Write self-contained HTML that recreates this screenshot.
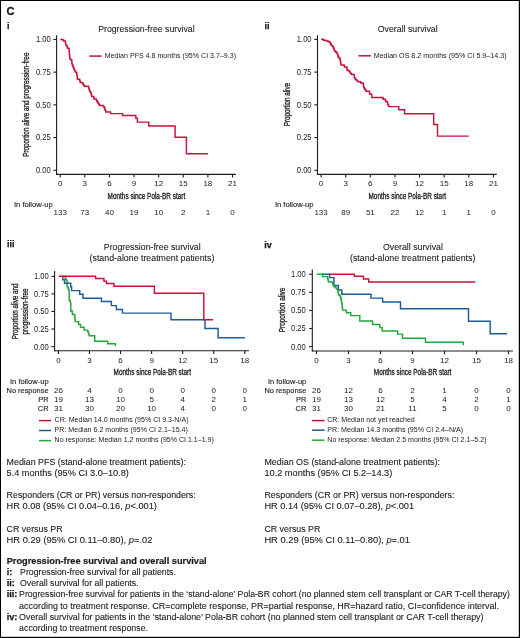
<!DOCTYPE html>
<html><head><meta charset="utf-8"><style>
html,body{margin:0;padding:0;background:#fff;}
body{width:520px;height:638px;overflow:hidden;}
svg{display:block;font-family:"Liberation Sans",sans-serif;}
text{fill:#1a1a1a;stroke:#1a1a1a;stroke-width:0;}
</style></head><body>
<svg width="520" height="638" viewBox="0 0 520 638">
<defs><filter id="bl" x="-5%" y="-5%" width="110%" height="110%" color-interpolation-filters="sRGB"><feGaussianBlur stdDeviation="0.35"/></filter></defs>
<rect x="0" y="0" width="520" height="638" fill="#fff"/>
<g filter="url(#bl)">
<rect x="0" y="0" width="520" height="638" fill="#fff"/>
<text x="6.60" y="14.90" font-size="11.6" font-weight="bold" textLength="8.00" lengthAdjust="spacingAndGlyphs" fill="#000" style="stroke-width:0.3px">C</text>
<text x="6.90" y="28.80" font-size="9" font-weight="bold" fill="#000" style="stroke-width:0.25px">i</text>
<line x1="56.60" y1="35.20" x2="56.60" y2="174.95" stroke="#1c1c1c" stroke-width="1.1"/>
<line x1="56.05" y1="174.40" x2="235.90" y2="174.40" stroke="#1c1c1c" stroke-width="1.1"/>
<line x1="53.40" y1="39.40" x2="56.60" y2="39.40" stroke="#1c1c1c" stroke-width="1.1"/>
<text x="50.70" y="42.30" font-size="8.2" text-anchor="end" textLength="14.80" lengthAdjust="spacingAndGlyphs">1.00</text>
<line x1="53.40" y1="72.12" x2="56.60" y2="72.12" stroke="#1c1c1c" stroke-width="1.1"/>
<text x="50.70" y="75.03" font-size="8.2" text-anchor="end" textLength="14.80" lengthAdjust="spacingAndGlyphs">0.75</text>
<line x1="53.40" y1="104.85" x2="56.60" y2="104.85" stroke="#1c1c1c" stroke-width="1.1"/>
<text x="50.70" y="107.75" font-size="8.2" text-anchor="end" textLength="14.80" lengthAdjust="spacingAndGlyphs">0.50</text>
<line x1="53.40" y1="137.58" x2="56.60" y2="137.58" stroke="#1c1c1c" stroke-width="1.1"/>
<text x="50.70" y="140.48" font-size="8.2" text-anchor="end" textLength="14.80" lengthAdjust="spacingAndGlyphs">0.25</text>
<line x1="53.40" y1="170.30" x2="56.60" y2="170.30" stroke="#1c1c1c" stroke-width="1.1"/>
<text x="50.70" y="173.20" font-size="8.2" text-anchor="end" textLength="14.80" lengthAdjust="spacingAndGlyphs">0.00</text>
<line x1="60.20" y1="174.40" x2="60.20" y2="177.60" stroke="#1c1c1c" stroke-width="1.1"/>
<text x="60.20" y="185.80" font-size="8.0" text-anchor="middle">0</text>
<line x1="84.81" y1="174.40" x2="84.81" y2="177.60" stroke="#1c1c1c" stroke-width="1.1"/>
<text x="84.81" y="185.80" font-size="8.0" text-anchor="middle">3</text>
<line x1="109.43" y1="174.40" x2="109.43" y2="177.60" stroke="#1c1c1c" stroke-width="1.1"/>
<text x="109.43" y="185.80" font-size="8.0" text-anchor="middle">6</text>
<line x1="134.05" y1="174.40" x2="134.05" y2="177.60" stroke="#1c1c1c" stroke-width="1.1"/>
<text x="134.05" y="185.80" font-size="8.0" text-anchor="middle">9</text>
<line x1="158.66" y1="174.40" x2="158.66" y2="177.60" stroke="#1c1c1c" stroke-width="1.1"/>
<text x="158.66" y="185.80" font-size="8.0" text-anchor="middle">12</text>
<line x1="183.27" y1="174.40" x2="183.27" y2="177.60" stroke="#1c1c1c" stroke-width="1.1"/>
<text x="183.27" y="185.80" font-size="8.0" text-anchor="middle">15</text>
<line x1="207.89" y1="174.40" x2="207.89" y2="177.60" stroke="#1c1c1c" stroke-width="1.1"/>
<text x="207.89" y="185.80" font-size="8.0" text-anchor="middle">18</text>
<line x1="232.50" y1="174.40" x2="232.50" y2="177.60" stroke="#1c1c1c" stroke-width="1.1"/>
<text x="232.50" y="185.80" font-size="8.0" text-anchor="middle">21</text>
<text x="98.20" y="31.50" font-size="8.6" textLength="96.40" lengthAdjust="spacingAndGlyphs" style="stroke-width:0.08px">Progression-free survival</text>
<line x1="89.30" y1="56.10" x2="101.60" y2="56.10" stroke="#c8123a" stroke-width="1.5"/>
<text x="104.80" y="57.90" font-size="7.0" textLength="131.20" lengthAdjust="spacingAndGlyphs">Median PFS 4.8 months (95% CI 3.7–9.3)</text>
<text x="107.60" y="198.80" font-size="8.3" textLength="77.60" lengthAdjust="spacingAndGlyphs" style="stroke-width:0.3px">Months since Pola-BR start</text>
<text transform="translate(28.70,156.80) rotate(-90)" x="0" y="0" font-size="8.3" textLength="104.20" lengthAdjust="spacingAndGlyphs" style="stroke-width:0.3px">Proportion alive and progression-free</text>
<text x="14.00" y="206.80" font-size="7.4" textLength="38.60" lengthAdjust="spacingAndGlyphs" style="stroke-width:0.12px">In follow-up</text>
<text x="60.20" y="215.20" font-size="8.0" text-anchor="middle">133</text>
<text x="84.81" y="215.20" font-size="8.0" text-anchor="middle">73</text>
<text x="109.43" y="215.20" font-size="8.0" text-anchor="middle">40</text>
<text x="134.05" y="215.20" font-size="8.0" text-anchor="middle">19</text>
<text x="158.66" y="215.20" font-size="8.0" text-anchor="middle">10</text>
<text x="183.27" y="215.20" font-size="8.0" text-anchor="middle">2</text>
<text x="207.89" y="215.20" font-size="8.0" text-anchor="middle">1</text>
<text x="232.50" y="215.20" font-size="8.0" text-anchor="middle">0</text>
<path d="M60.20,39.40H62.20H63.00V40.20H63.80V41.00H65.40V42.30H65.57V43.20H65.73V44.10H65.90V45.00H66.70V45.60H66.93V46.50H67.17V47.40H67.40V48.30H69.00V48.70H69.08V49.77H69.17V50.83H69.25V51.90H69.33V52.97H69.42V54.03H69.50V55.10H69.60V56.00H69.70V56.90H69.80V57.80H70.10V58.75H70.40V59.70H71.80V61.20H71.80V62.35H71.80V63.50H72.25V64.65H72.70V65.80H73.10V67.00H73.50V68.20H73.95V69.30H74.40V70.40H74.95V71.35H75.50V72.30H76.70V73.50H76.83V74.40H76.97V75.30H77.10V76.20H77.23V77.20H77.37V78.20H77.50V79.20H79.40V79.40H79.70V80.45H80.00V81.50H80.30V82.50H82.30V82.70H82.75V83.65H83.20V84.60H83.80V85.40H84.40V86.20H88.20H88.50V87.15H88.80V88.10H89.00V89.05H89.20V90.00H89.75V91.50H90.38V92.50H91.00V93.50H91.25V94.50H91.50V95.50H91.75V96.50H93.50V97.00H93.75V98.00H94.00V99.00H96.00V99.50H96.62V100.75H97.25V102.00H98.00V103.25H98.75V104.50H99.50V105.50H102.00H103.50V106.60H104.10V107.40H104.70V108.20H104.90V109.35H105.10V110.50H105.80V112.00H110.60V113.60H122.60H122.60V114.55H122.60V115.50H135.80H135.80V116.40H135.80V117.30H135.80V118.20H137.40V118.90H137.40V119.97H137.40V121.03H137.40V122.10H148.80H148.80V123.05H148.80V124.00H148.80V124.95H148.80V125.90H175.10H175.10V126.93H175.10V127.95H175.10V128.98H175.10V130.01H175.10V131.04H175.10V132.06H175.10V133.09H175.10V134.12H175.10V135.15H175.10V136.17H175.10V137.20H186.40H186.40V138.18H186.40V139.15H186.40V140.13H186.40V141.11H186.40V142.08H186.40V143.06H186.40V144.04H186.40V145.01H186.40V145.99H186.40V146.96H186.40V147.94H186.40V148.92H186.40V149.89H186.40V150.87H186.40V151.85H186.40V152.82H186.40V153.80H207.90" fill="none" stroke="#c8123a" stroke-width="1.45" stroke-linejoin="miter" stroke-linecap="butt"/>
<text x="264.40" y="29.10" font-size="9" font-weight="bold" fill="#000" style="stroke-width:0.25px">ii</text>
<line x1="317.50" y1="35.20" x2="317.50" y2="174.95" stroke="#1c1c1c" stroke-width="1.1"/>
<line x1="316.95" y1="174.40" x2="496.80" y2="174.40" stroke="#1c1c1c" stroke-width="1.1"/>
<line x1="314.30" y1="39.40" x2="317.50" y2="39.40" stroke="#1c1c1c" stroke-width="1.1"/>
<text x="311.60" y="42.30" font-size="8.2" text-anchor="end" textLength="14.80" lengthAdjust="spacingAndGlyphs">1.00</text>
<line x1="314.30" y1="72.12" x2="317.50" y2="72.12" stroke="#1c1c1c" stroke-width="1.1"/>
<text x="311.60" y="75.03" font-size="8.2" text-anchor="end" textLength="14.80" lengthAdjust="spacingAndGlyphs">0.75</text>
<line x1="314.30" y1="104.85" x2="317.50" y2="104.85" stroke="#1c1c1c" stroke-width="1.1"/>
<text x="311.60" y="107.75" font-size="8.2" text-anchor="end" textLength="14.80" lengthAdjust="spacingAndGlyphs">0.50</text>
<line x1="314.30" y1="137.58" x2="317.50" y2="137.58" stroke="#1c1c1c" stroke-width="1.1"/>
<text x="311.60" y="140.48" font-size="8.2" text-anchor="end" textLength="14.80" lengthAdjust="spacingAndGlyphs">0.25</text>
<line x1="314.30" y1="170.30" x2="317.50" y2="170.30" stroke="#1c1c1c" stroke-width="1.1"/>
<text x="311.60" y="173.20" font-size="8.2" text-anchor="end" textLength="14.80" lengthAdjust="spacingAndGlyphs">0.00</text>
<line x1="321.10" y1="174.40" x2="321.10" y2="177.60" stroke="#1c1c1c" stroke-width="1.1"/>
<text x="321.10" y="185.80" font-size="8.0" text-anchor="middle">0</text>
<line x1="345.71" y1="174.40" x2="345.71" y2="177.60" stroke="#1c1c1c" stroke-width="1.1"/>
<text x="345.71" y="185.80" font-size="8.0" text-anchor="middle">3</text>
<line x1="370.33" y1="174.40" x2="370.33" y2="177.60" stroke="#1c1c1c" stroke-width="1.1"/>
<text x="370.33" y="185.80" font-size="8.0" text-anchor="middle">6</text>
<line x1="394.94" y1="174.40" x2="394.94" y2="177.60" stroke="#1c1c1c" stroke-width="1.1"/>
<text x="394.94" y="185.80" font-size="8.0" text-anchor="middle">9</text>
<line x1="419.56" y1="174.40" x2="419.56" y2="177.60" stroke="#1c1c1c" stroke-width="1.1"/>
<text x="419.56" y="185.80" font-size="8.0" text-anchor="middle">12</text>
<line x1="444.17" y1="174.40" x2="444.17" y2="177.60" stroke="#1c1c1c" stroke-width="1.1"/>
<text x="444.17" y="185.80" font-size="8.0" text-anchor="middle">15</text>
<line x1="468.79" y1="174.40" x2="468.79" y2="177.60" stroke="#1c1c1c" stroke-width="1.1"/>
<text x="468.79" y="185.80" font-size="8.0" text-anchor="middle">18</text>
<line x1="493.40" y1="174.40" x2="493.40" y2="177.60" stroke="#1c1c1c" stroke-width="1.1"/>
<text x="493.40" y="185.80" font-size="8.0" text-anchor="middle">21</text>
<text x="377.80" y="31.50" font-size="8.6" textLength="59.90" lengthAdjust="spacingAndGlyphs" style="stroke-width:0.08px">Overall survival</text>
<line x1="358.40" y1="55.80" x2="370.80" y2="55.80" stroke="#c8123a" stroke-width="1.5"/>
<text x="373.70" y="57.90" font-size="7.0" textLength="132.90" lengthAdjust="spacingAndGlyphs">Median OS 8.2 months (95% CI 5.9–14.3)</text>
<text x="368.50" y="198.80" font-size="8.3" textLength="77.60" lengthAdjust="spacingAndGlyphs" style="stroke-width:0.3px">Months since Pola-BR start</text>
<text transform="translate(289.60,126.20) rotate(-90)" x="0" y="0" font-size="8.3" textLength="43.20" lengthAdjust="spacingAndGlyphs" style="stroke-width:0.3px">Proportion alive</text>
<text x="274.90" y="206.80" font-size="7.4" textLength="38.60" lengthAdjust="spacingAndGlyphs" style="stroke-width:0.12px">In follow-up</text>
<text x="321.10" y="215.20" font-size="8.0" text-anchor="middle">133</text>
<text x="345.71" y="215.20" font-size="8.0" text-anchor="middle">89</text>
<text x="370.33" y="215.20" font-size="8.0" text-anchor="middle">51</text>
<text x="394.94" y="215.20" font-size="8.0" text-anchor="middle">22</text>
<text x="419.56" y="215.20" font-size="8.0" text-anchor="middle">12</text>
<text x="444.17" y="215.20" font-size="8.0" text-anchor="middle">1</text>
<text x="468.79" y="215.20" font-size="8.0" text-anchor="middle">1</text>
<text x="493.40" y="215.20" font-size="8.0" text-anchor="middle">0</text>
<path d="M321.20,39.20H323.00H323.50V40.25H325.50V40.50H326.50V41.00H328.00V41.50H329.50V42.50H330.50V43.50H330.88V44.50H331.25V45.50H332.50V46.50H333.25V48.00H334.00V49.25H334.25V50.12H334.50V51.00H335.75V52.25H337.00V53.25H337.38V54.12H337.75V55.00H338.00V56.25H338.25V57.50H339.50V58.50H339.88V59.50H340.25V60.50H340.44V61.62H340.62V62.75H340.81V63.88H341.00V65.00H344.00V65.25H344.25V66.12H344.50V67.00H346.75V67.50H346.92V68.50H347.08V69.50H347.25V70.50H349.25V71.25H349.88V72.38H350.50V73.50H351.50V74.50H354.00H354.12V75.38H354.25V76.25H354.38V77.12H354.50V78.00H355.25V79.00H356.00V80.00H357.00V80.88H358.00V81.75H360.80V82.90H363.20V84.20H363.35V85.10H363.50V86.00H363.65V86.90H363.80V87.80H364.53V88.93H365.27V90.07H366.00V91.20H369.40H369.50V92.23H369.60V93.27H369.70V94.30H371.80V94.60H371.80V95.53H371.80V96.47H371.80V97.40H382.60H382.90V98.30H383.20V99.20H385.10V99.50H385.40V100.45H385.70V101.40H387.20V101.70H387.40V102.63H387.60V103.57H387.80V104.50H388.30V105.55H388.80V106.60H398.80H398.80V107.63H398.80V108.67H398.80V109.70H404.60H404.60V110.70H404.60V111.70H404.60V112.70H404.60V113.70H433.70H433.70V114.68H433.70V115.66H433.70V116.65H433.70V117.63H433.70V118.61H433.70V119.59H433.70V120.57H433.70V121.55H433.70V122.54H433.70V123.52H433.70V124.50H437.50H437.50V125.47H437.50V126.43H437.50V127.40H437.50V128.37H437.50V129.33H437.50V130.30H437.50V131.27H437.50V132.23H437.50V133.20H437.50V134.17H437.50V135.13H437.50V136.10H468.80" fill="none" stroke="#c8123a" stroke-width="1.45" stroke-linejoin="miter" stroke-linecap="butt"/>
<text x="6.90" y="247.40" font-size="9" font-weight="bold" fill="#000" style="stroke-width:0.25px">iii</text>
<line x1="54.60" y1="271.00" x2="54.60" y2="351.35" stroke="#1c1c1c" stroke-width="1.1"/>
<line x1="54.05" y1="350.80" x2="249.00" y2="350.80" stroke="#1c1c1c" stroke-width="1.1"/>
<line x1="51.40" y1="276.30" x2="54.60" y2="276.30" stroke="#1c1c1c" stroke-width="1.1"/>
<text x="48.80" y="279.20" font-size="8.2" text-anchor="end" textLength="14.80" lengthAdjust="spacingAndGlyphs">1.00</text>
<line x1="51.40" y1="293.88" x2="54.60" y2="293.88" stroke="#1c1c1c" stroke-width="1.1"/>
<text x="48.80" y="296.77" font-size="8.2" text-anchor="end" textLength="14.80" lengthAdjust="spacingAndGlyphs">0.75</text>
<line x1="51.40" y1="311.45" x2="54.60" y2="311.45" stroke="#1c1c1c" stroke-width="1.1"/>
<text x="48.80" y="314.35" font-size="8.2" text-anchor="end" textLength="14.80" lengthAdjust="spacingAndGlyphs">0.50</text>
<line x1="51.40" y1="329.02" x2="54.60" y2="329.02" stroke="#1c1c1c" stroke-width="1.1"/>
<text x="48.80" y="331.92" font-size="8.2" text-anchor="end" textLength="14.80" lengthAdjust="spacingAndGlyphs">0.25</text>
<line x1="51.40" y1="346.60" x2="54.60" y2="346.60" stroke="#1c1c1c" stroke-width="1.1"/>
<text x="48.80" y="349.50" font-size="8.2" text-anchor="end" textLength="14.80" lengthAdjust="spacingAndGlyphs">0.00</text>
<line x1="58.40" y1="350.80" x2="58.40" y2="354.00" stroke="#1c1c1c" stroke-width="1.1"/>
<text x="58.40" y="362.80" font-size="8.0" text-anchor="middle">0</text>
<line x1="89.47" y1="350.80" x2="89.47" y2="354.00" stroke="#1c1c1c" stroke-width="1.1"/>
<text x="89.47" y="362.80" font-size="8.0" text-anchor="middle">3</text>
<line x1="120.54" y1="350.80" x2="120.54" y2="354.00" stroke="#1c1c1c" stroke-width="1.1"/>
<text x="120.54" y="362.80" font-size="8.0" text-anchor="middle">6</text>
<line x1="151.61" y1="350.80" x2="151.61" y2="354.00" stroke="#1c1c1c" stroke-width="1.1"/>
<text x="151.61" y="362.80" font-size="8.0" text-anchor="middle">9</text>
<line x1="182.68" y1="350.80" x2="182.68" y2="354.00" stroke="#1c1c1c" stroke-width="1.1"/>
<text x="182.68" y="362.80" font-size="8.0" text-anchor="middle">12</text>
<line x1="213.75" y1="350.80" x2="213.75" y2="354.00" stroke="#1c1c1c" stroke-width="1.1"/>
<text x="213.75" y="362.80" font-size="8.0" text-anchor="middle">15</text>
<line x1="244.82" y1="350.80" x2="244.82" y2="354.00" stroke="#1c1c1c" stroke-width="1.1"/>
<text x="244.82" y="362.80" font-size="8.0" text-anchor="middle">18</text>
<text x="103.80" y="249.70" font-size="8.6" textLength="96.80" lengthAdjust="spacingAndGlyphs" style="stroke-width:0.08px">Progression-free survival</text>
<text x="89.60" y="261.00" font-size="8.6" textLength="124.80" lengthAdjust="spacingAndGlyphs" style="stroke-width:0.08px">(stand-alone treatment patients)</text>
<text x="113.60" y="374.70" font-size="8.3" textLength="77.40" lengthAdjust="spacingAndGlyphs" style="stroke-width:0.3px">Months since Pola-BR start</text>
<text transform="translate(18.30,339.30) rotate(-90)" x="0" y="0" font-size="8.3" textLength="55.90" lengthAdjust="spacingAndGlyphs" style="stroke-width:0.3px">Proportion alive and</text>
<text transform="translate(28.40,334.40) rotate(-90)" x="0" y="0" font-size="8.3" textLength="46.00" lengthAdjust="spacingAndGlyphs" style="stroke-width:0.3px">progression-free</text>
<text x="48.60" y="383.80" font-size="7.4" text-anchor="end" textLength="38.60" lengthAdjust="spacingAndGlyphs" style="stroke-width:0.12px">In follow-up</text>
<text x="48.50" y="392.80" font-size="7.4" text-anchor="end" style="stroke-width:0.12px">No response</text>
<text x="48.50" y="402.00" font-size="7.4" text-anchor="end" style="stroke-width:0.12px">PR</text>
<text x="48.50" y="411.20" font-size="7.4" text-anchor="end" style="stroke-width:0.12px">CR</text>
<text x="58.40" y="392.80" font-size="8.0" text-anchor="middle">26</text>
<text x="89.47" y="392.80" font-size="8.0" text-anchor="middle">4</text>
<text x="120.54" y="392.80" font-size="8.0" text-anchor="middle">0</text>
<text x="151.61" y="392.80" font-size="8.0" text-anchor="middle">0</text>
<text x="182.68" y="392.80" font-size="8.0" text-anchor="middle">0</text>
<text x="213.75" y="392.80" font-size="8.0" text-anchor="middle">0</text>
<text x="244.82" y="392.80" font-size="8.0" text-anchor="middle">0</text>
<text x="58.40" y="402.00" font-size="8.0" text-anchor="middle">19</text>
<text x="89.47" y="402.00" font-size="8.0" text-anchor="middle">13</text>
<text x="120.54" y="402.00" font-size="8.0" text-anchor="middle">10</text>
<text x="151.61" y="402.00" font-size="8.0" text-anchor="middle">5</text>
<text x="182.68" y="402.00" font-size="8.0" text-anchor="middle">4</text>
<text x="213.75" y="402.00" font-size="8.0" text-anchor="middle">2</text>
<text x="244.82" y="402.00" font-size="8.0" text-anchor="middle">1</text>
<text x="58.40" y="411.20" font-size="8.0" text-anchor="middle">31</text>
<text x="89.47" y="411.20" font-size="8.0" text-anchor="middle">30</text>
<text x="120.54" y="411.20" font-size="8.0" text-anchor="middle">20</text>
<text x="151.61" y="411.20" font-size="8.0" text-anchor="middle">10</text>
<text x="182.68" y="411.20" font-size="8.0" text-anchor="middle">4</text>
<text x="213.75" y="411.20" font-size="8.0" text-anchor="middle">0</text>
<text x="244.82" y="411.20" font-size="8.0" text-anchor="middle">0</text>
<line x1="39.00" y1="420.60" x2="51.10" y2="420.60" stroke="#c8123a" stroke-width="1.5"/>
<line x1="39.00" y1="430.50" x2="51.10" y2="430.50" stroke="#1e5c96" stroke-width="1.5"/>
<line x1="39.00" y1="440.60" x2="51.10" y2="440.60" stroke="#22a838" stroke-width="1.5"/>
<text x="54.60" y="422.40" font-size="7.0" textLength="133.90" lengthAdjust="spacingAndGlyphs">CR: Median 14.0 months (95% CI 9.3-N/A)</text>
<text x="54.60" y="432.20" font-size="7.0" textLength="133.30" lengthAdjust="spacingAndGlyphs">PR: Median 6.2 months (95% CI 2.1–15.4)</text>
<text x="54.60" y="442.20" font-size="7.0" textLength="159.30" lengthAdjust="spacingAndGlyphs">No response: Median 1.2 months (95% CI 1.1–1.9)</text>
<path d="M64.30,276.30H64.80H65.10V277.25H65.40V278.20H65.83V279.10H66.25V280.00H66.67V280.85H67.10V281.70H67.10V282.66H67.10V283.62H67.10V284.58H67.10V285.54H67.10V286.50H67.70V287.70H68.30V288.90H68.60V289.90H68.90V290.90H69.20V291.90H69.20V292.94H69.20V293.97H69.20V295.01H69.20V296.05H69.20V297.09H69.20V298.12H69.20V299.16H69.20V300.20H69.80V301.10H70.40V302.00H70.53V303.00H70.67V304.00H70.80V305.00H70.80V306.00H70.80V307.00H70.80V308.00H70.80V309.00H70.80V310.00H70.80V311.00H72.10V311.30H72.20V312.33H72.30V313.37H72.40V314.40H74.60H74.69V315.43H74.77V316.46H74.86V317.49H74.94V318.51H75.03V319.54H75.11V320.57H75.20V321.60H78.40V321.90H78.55V323.15H78.70V324.40H80.50V325.70H80.50V326.50H80.50V327.30H84.00V327.60H84.00V328.85H84.00V330.10H87.40V330.40H87.78V331.46H88.16V332.52H88.54V333.58H88.92V334.64H89.30V335.70H94.70H94.70V336.62H94.70V337.53H94.70V338.45H94.70V339.37H94.70V340.28H94.70V341.20H107.70H107.70V342.07H107.70V342.93H107.70V343.80H115.40H115.40V345.05H115.40V346.30" fill="none" stroke="#22a838" stroke-width="1.45" stroke-linejoin="miter" stroke-linecap="butt"/>
<path d="M62.30,276.30H62.80H62.80V277.43H62.80V278.57H62.80V279.70H64.50V280.00H64.50V281.07H64.50V282.13H64.50V283.20H70.70H70.70V284.10H70.70V285.00H70.70V285.90H70.70V286.80H71.60H71.60V287.75H71.60V288.70H71.60V289.65H71.60V290.60H79.70H79.70V291.53H79.70V292.45H79.70V293.38H79.70V294.30H83.00H83.00V295.27H83.00V296.25H83.00V297.23H83.00V298.20H101.40H101.40V299.30H101.40V300.40H101.40V301.50H111.40H111.40V302.52H111.40V303.55H111.40V304.58H111.40V305.60H116.40H116.40V306.55H116.40V307.50H116.40V308.45H116.40V309.40H122.50H122.50V310.32H122.50V311.25H122.50V312.18H122.50V313.10H171.00H171.00V314.06H171.00V315.01H171.00V315.97H171.00V316.93H171.00V317.89H171.00V318.84H171.00V319.80H205.00H205.00V320.77H205.00V321.73H205.00V322.70H205.00V323.67H205.00V324.63H205.00V325.60H205.00V326.57H205.00V327.53H205.00V328.50H218.10H218.10V329.52H218.10V330.54H218.10V331.57H218.10V332.59H218.10V333.61H218.10V334.63H218.10V335.66H218.10V336.68H218.10V337.70H244.80" fill="none" stroke="#1e5c96" stroke-width="1.45" stroke-linejoin="miter" stroke-linecap="butt"/>
<path d="M58.60,276.30H95.60H95.60V277.35H95.60V278.40H103.90H103.90V279.33H103.90V280.27H103.90V281.20H106.50H106.50V282.30H106.50V283.40H114.00H114.00V284.37H114.00V285.33H114.00V286.30H154.40H154.40V287.30H154.40V288.30H154.40V289.30H154.40V290.30H154.40V291.30H154.40V292.30H154.40V293.30H203.80H203.80V294.32H203.80V295.34H203.80V296.36H203.80V297.38H203.80V298.40H203.80V299.42H203.80V300.43H203.80V301.45H203.80V302.47H203.80V303.49H203.80V304.51H203.80V305.53H203.80V306.55H203.80V307.57H203.80V308.59H203.80V309.61H203.80V310.63H203.80V311.65H203.80V312.67H203.80V313.68H203.80V314.70H203.80V315.72H203.80V316.74H203.80V317.76H203.80V318.78H203.80V319.80H213.10" fill="none" stroke="#c8123a" stroke-width="1.45" stroke-linejoin="miter" stroke-linecap="butt"/>
<text x="264.30" y="247.70" font-size="9" font-weight="bold" fill="#000" style="stroke-width:0.25px">iv</text>
<line x1="312.30" y1="269.40" x2="312.30" y2="351.55" stroke="#1c1c1c" stroke-width="1.1"/>
<line x1="311.75" y1="351.00" x2="512.90" y2="351.00" stroke="#1c1c1c" stroke-width="1.1"/>
<line x1="309.10" y1="274.20" x2="312.30" y2="274.20" stroke="#1c1c1c" stroke-width="1.1"/>
<text x="305.80" y="277.10" font-size="8.2" text-anchor="end" textLength="14.80" lengthAdjust="spacingAndGlyphs">1.00</text>
<line x1="309.10" y1="292.30" x2="312.30" y2="292.30" stroke="#1c1c1c" stroke-width="1.1"/>
<text x="305.80" y="295.20" font-size="8.2" text-anchor="end" textLength="14.80" lengthAdjust="spacingAndGlyphs">0.75</text>
<line x1="309.10" y1="310.40" x2="312.30" y2="310.40" stroke="#1c1c1c" stroke-width="1.1"/>
<text x="305.80" y="313.30" font-size="8.2" text-anchor="end" textLength="14.80" lengthAdjust="spacingAndGlyphs">0.50</text>
<line x1="309.10" y1="328.50" x2="312.30" y2="328.50" stroke="#1c1c1c" stroke-width="1.1"/>
<text x="305.80" y="331.40" font-size="8.2" text-anchor="end" textLength="14.80" lengthAdjust="spacingAndGlyphs">0.25</text>
<line x1="309.10" y1="346.60" x2="312.30" y2="346.60" stroke="#1c1c1c" stroke-width="1.1"/>
<text x="305.80" y="349.50" font-size="8.2" text-anchor="end" textLength="14.80" lengthAdjust="spacingAndGlyphs">0.00</text>
<line x1="316.50" y1="351.00" x2="316.50" y2="354.20" stroke="#1c1c1c" stroke-width="1.1"/>
<text x="316.50" y="362.80" font-size="8.0" text-anchor="middle">0</text>
<line x1="348.50" y1="351.00" x2="348.50" y2="354.20" stroke="#1c1c1c" stroke-width="1.1"/>
<text x="348.50" y="362.80" font-size="8.0" text-anchor="middle">3</text>
<line x1="380.50" y1="351.00" x2="380.50" y2="354.20" stroke="#1c1c1c" stroke-width="1.1"/>
<text x="380.50" y="362.80" font-size="8.0" text-anchor="middle">6</text>
<line x1="412.50" y1="351.00" x2="412.50" y2="354.20" stroke="#1c1c1c" stroke-width="1.1"/>
<text x="412.50" y="362.80" font-size="8.0" text-anchor="middle">9</text>
<line x1="444.50" y1="351.00" x2="444.50" y2="354.20" stroke="#1c1c1c" stroke-width="1.1"/>
<text x="444.50" y="362.80" font-size="8.0" text-anchor="middle">12</text>
<line x1="476.50" y1="351.00" x2="476.50" y2="354.20" stroke="#1c1c1c" stroke-width="1.1"/>
<text x="476.50" y="362.80" font-size="8.0" text-anchor="middle">15</text>
<line x1="508.50" y1="351.00" x2="508.50" y2="354.20" stroke="#1c1c1c" stroke-width="1.1"/>
<text x="508.50" y="362.80" font-size="8.0" text-anchor="middle">18</text>
<text x="383.00" y="249.70" font-size="8.6" textLength="59.90" lengthAdjust="spacingAndGlyphs" style="stroke-width:0.08px">Overall survival</text>
<text x="350.00" y="261.00" font-size="8.6" textLength="125.40" lengthAdjust="spacingAndGlyphs" style="stroke-width:0.08px">(stand-alone treatment patients)</text>
<text x="373.80" y="374.70" font-size="8.3" textLength="77.60" lengthAdjust="spacingAndGlyphs" style="stroke-width:0.3px">Months since Pola-BR start</text>
<text transform="translate(284.90,332.20) rotate(-90)" x="0" y="0" font-size="8.3" textLength="44.60" lengthAdjust="spacingAndGlyphs" style="stroke-width:0.3px">Proportion alive</text>
<text x="306.30" y="383.80" font-size="7.4" text-anchor="end" textLength="38.40" lengthAdjust="spacingAndGlyphs" style="stroke-width:0.12px">In follow-up</text>
<text x="306.30" y="393.00" font-size="7.4" text-anchor="end" style="stroke-width:0.12px">No response</text>
<text x="306.30" y="401.90" font-size="7.4" text-anchor="end" style="stroke-width:0.12px">PR</text>
<text x="306.30" y="411.10" font-size="7.4" text-anchor="end" style="stroke-width:0.12px">CR</text>
<text x="316.50" y="393.00" font-size="8.0" text-anchor="middle">26</text>
<text x="348.50" y="393.00" font-size="8.0" text-anchor="middle">12</text>
<text x="380.50" y="393.00" font-size="8.0" text-anchor="middle">6</text>
<text x="412.50" y="393.00" font-size="8.0" text-anchor="middle">2</text>
<text x="444.50" y="393.00" font-size="8.0" text-anchor="middle">1</text>
<text x="476.50" y="393.00" font-size="8.0" text-anchor="middle">0</text>
<text x="508.50" y="393.00" font-size="8.0" text-anchor="middle">0</text>
<text x="316.50" y="401.90" font-size="8.0" text-anchor="middle">19</text>
<text x="348.50" y="401.90" font-size="8.0" text-anchor="middle">13</text>
<text x="380.50" y="401.90" font-size="8.0" text-anchor="middle">12</text>
<text x="412.50" y="401.90" font-size="8.0" text-anchor="middle">5</text>
<text x="444.50" y="401.90" font-size="8.0" text-anchor="middle">4</text>
<text x="476.50" y="401.90" font-size="8.0" text-anchor="middle">2</text>
<text x="508.50" y="401.90" font-size="8.0" text-anchor="middle">1</text>
<text x="316.50" y="411.10" font-size="8.0" text-anchor="middle">31</text>
<text x="348.50" y="411.10" font-size="8.0" text-anchor="middle">30</text>
<text x="380.50" y="411.10" font-size="8.0" text-anchor="middle">21</text>
<text x="412.50" y="411.10" font-size="8.0" text-anchor="middle">11</text>
<text x="444.50" y="411.10" font-size="8.0" text-anchor="middle">5</text>
<text x="476.50" y="411.10" font-size="8.0" text-anchor="middle">0</text>
<text x="508.50" y="411.10" font-size="8.0" text-anchor="middle">0</text>
<line x1="312.10" y1="420.60" x2="324.60" y2="420.60" stroke="#c8123a" stroke-width="1.5"/>
<line x1="312.10" y1="430.20" x2="324.60" y2="430.20" stroke="#1e5c96" stroke-width="1.5"/>
<line x1="312.10" y1="440.20" x2="324.60" y2="440.20" stroke="#22a838" stroke-width="1.5"/>
<text x="327.30" y="422.30" font-size="7.0" textLength="87.40" lengthAdjust="spacingAndGlyphs">CR: Median not yet reached</text>
<text x="327.30" y="432.00" font-size="7.0" textLength="135.90" lengthAdjust="spacingAndGlyphs">PR: Median 14.3 months (95% CI 2.4–N/A)</text>
<text x="327.30" y="442.00" font-size="7.0" textLength="159.20" lengthAdjust="spacingAndGlyphs">No response: Median 2.5 months (95% CI 2.1–5.2)</text>
<path d="M329.10,274.20H354.30H354.30V275.25H354.30V276.30H363.40H363.40V277.20H363.40V278.10H363.40V279.00H368.70H368.70V279.97H368.70V280.93H368.70V281.90H475.40" fill="none" stroke="#c8123a" stroke-width="1.45" stroke-linejoin="miter" stroke-linecap="butt"/>
<path d="M322.00,274.20H329.60H329.60V275.33H329.60V276.47H329.60V277.60H333.90H333.90V278.59H333.90V279.58H333.90V280.56H333.90V281.55H333.90V282.54H333.90V283.52H333.90V284.51H333.90V285.50H338.50V285.70H338.50V286.75H338.50V287.80H338.50V288.85H338.50V289.90H341.70V290.10H341.75V291.12H341.80V292.15H341.85V293.18H341.90V294.20H371.00H371.00V295.18H371.00V296.15H371.00V297.12H371.00V298.10H382.60H382.60V299.05H382.60V300.00H382.60V300.95H382.60V301.90H400.50H400.50V302.87H400.50V303.84H400.50V304.81H400.50V305.79H400.50V306.76H400.50V307.73H400.50V308.70H468.50H468.50V309.74H468.50V310.78H468.50V311.82H468.50V312.87H468.50V313.91H468.50V314.95H468.50V315.99H468.50V317.03H468.50V318.07H468.50V319.12H468.50V320.16H468.50V321.20H490.20H490.20V322.24H490.20V323.28H490.20V324.32H490.20V325.37H490.20V326.41H490.20V327.45H490.20V328.49H490.20V329.53H490.20V330.57H490.20V331.62H490.20V332.66H490.20V333.70H506.90" fill="none" stroke="#1e5c96" stroke-width="1.45" stroke-linejoin="miter" stroke-linecap="butt"/>
<path d="M316.80,274.20H322.50H322.50V275.40H322.50V276.60H326.90H327.50V278.00H327.75V279.00H328.00V280.00H328.25V281.00H328.50V282.00H332.30V282.30H332.60V283.33H332.90V284.37H333.20V285.40H333.85V286.20H334.50V287.00H336.00V288.20H336.95V289.45H337.90V290.70H338.05V291.73H338.20V292.75H338.35V293.77H338.50V294.80H339.45V295.75H340.40V296.70H340.65V297.80H340.90V298.90H341.15V300.00H341.40V301.10H341.55V302.03H341.70V302.95H341.85V303.88H342.00V304.80H342.12V305.86H342.24V306.92H342.36V307.98H342.48V309.04H342.60V310.10H346.00H346.13V310.97H346.27V311.83H346.40V312.70H350.70H350.70V313.67H350.70V314.63H350.70V315.60H359.80H359.80V316.68H359.80V317.76H359.80V318.84H359.80V319.92H359.80V321.00H372.50H372.50V322.13H372.50V323.27H372.50V324.40H379.80H379.80V325.47H379.80V326.53H379.80V327.60H382.20V327.90H382.20V328.90H382.20V329.90H382.20V330.90H397.50H397.50V331.97H397.50V333.03H397.50V334.10H402.50H402.50V335.15H402.50V336.20H402.50V337.25H402.50V338.30H425.50H425.50V339.30H425.50V340.30H425.50V341.30H425.50V342.30H463.30H463.30V343.27H463.30V344.23H463.30V345.20" fill="none" stroke="#22a838" stroke-width="1.45" stroke-linejoin="miter" stroke-linecap="butt"/>
<text x="6.60" y="464.80" font-size="9.3" textLength="179.30" lengthAdjust="spacingAndGlyphs" style="stroke-width:0.1px">Median PFS (stand-alone treatment patients):</text>
<text x="6.60" y="475.70" font-size="9.3" textLength="122.20" lengthAdjust="spacingAndGlyphs" style="stroke-width:0.1px">5.4 months (95% CI 3.0–10.8)</text>
<text x="6.60" y="498.00" font-size="9.3" textLength="189.10" lengthAdjust="spacingAndGlyphs" style="stroke-width:0.1px">Responders (CR or PR) versus non-responders:</text>
<text x="6.60" y="509.00" font-size="9.3" textLength="150.30" lengthAdjust="spacingAndGlyphs" style="stroke-width:0.1px">HR 0.08 (95% CI 0.04–0.16, <tspan font-style="italic">p</tspan>&lt;.001)</text>
<text x="6.60" y="531.80" font-size="9.3" textLength="56.00" lengthAdjust="spacingAndGlyphs" style="stroke-width:0.1px">CR versus PR</text>
<text x="6.60" y="542.80" font-size="9.3" textLength="145.80" lengthAdjust="spacingAndGlyphs" style="stroke-width:0.1px">HR 0.29 (95% CI 0.11–0.80), <tspan font-style="italic">p</tspan>=.02</text>
<text x="264.40" y="464.80" font-size="9.3" textLength="175.60" lengthAdjust="spacingAndGlyphs" style="stroke-width:0.1px">Median OS (stand-alone treatment patients):</text>
<text x="264.40" y="475.70" font-size="9.3" textLength="127.90" lengthAdjust="spacingAndGlyphs" style="stroke-width:0.1px">10.2 months (95% CI 5.2–14.3)</text>
<text x="264.40" y="498.00" font-size="9.3" textLength="190.10" lengthAdjust="spacingAndGlyphs" style="stroke-width:0.1px">Responders (CR or PR) versus non-responders:</text>
<text x="264.40" y="509.00" font-size="9.3" textLength="149.70" lengthAdjust="spacingAndGlyphs" style="stroke-width:0.1px">HR 0.14 (95% CI 0.07–0.28), <tspan font-style="italic">p</tspan>&lt;.001</text>
<text x="264.40" y="531.80" font-size="9.3" textLength="56.00" lengthAdjust="spacingAndGlyphs" style="stroke-width:0.1px">CR versus PR</text>
<text x="264.40" y="542.80" font-size="9.3" textLength="145.60" lengthAdjust="spacingAndGlyphs" style="stroke-width:0.1px">HR 0.29 (95% CI 0.11–0.80), <tspan font-style="italic">p</tspan>=.01</text>
<text x="6.70" y="563.80" font-size="9.15" font-weight="bold" textLength="200.00" lengthAdjust="spacingAndGlyphs" fill="#000" style="stroke-width:0.2px">Progression-free survival and overall survival</text>
<text x="6.70" y="575.30" font-size="9.2" font-weight="bold" fill="#000" style="stroke-width:0.25px">i:</text>
<text x="20.10" y="575.30" font-size="9.2" textLength="155.80" lengthAdjust="spacingAndGlyphs" style="stroke-width:0.1px">Progression-free survival for all patients.</text>
<text x="6.70" y="586.30" font-size="9.2" font-weight="bold" fill="#000" style="stroke-width:0.25px">ii:</text>
<text x="20.10" y="586.30" font-size="9.2" textLength="118.40" lengthAdjust="spacingAndGlyphs" style="stroke-width:0.1px">Overall survival for all patients.</text>
<text x="6.70" y="597.40" font-size="9.2" font-weight="bold" fill="#000" style="stroke-width:0.25px">iii:</text>
<text x="19.10" y="597.40" font-size="9.2" textLength="490.70" lengthAdjust="spacingAndGlyphs" style="stroke-width:0.1px">Progression-free survival for patients in the ‘stand-alone’ Pola-BR cohort (no planned stem cell transplant or CAR T-cell therapy)</text>
<text x="19.10" y="608.50" font-size="9.2" textLength="479.90" lengthAdjust="spacingAndGlyphs" style="stroke-width:0.1px">according to treatment response. CR=complete response, PR=partial response, HR=hazard ratio, CI=confidence interval.</text>
<text x="6.70" y="619.50" font-size="9.2" font-weight="bold" fill="#000" style="stroke-width:0.25px">iv:</text>
<text x="19.10" y="619.50" font-size="9.2" textLength="464.40" lengthAdjust="spacingAndGlyphs" style="stroke-width:0.1px">Overall survival for patients in the ‘stand-alone’ Pola-BR cohort (no planned stem cell transplant or CAR T-cell therapy)</text>
<text x="19.10" y="630.70" font-size="9.2" textLength="128.90" lengthAdjust="spacingAndGlyphs" style="stroke-width:0.1px">according to treatment response.</text>
</g>
<rect x="0" y="0" width="520" height="1" fill="#000"/><rect x="0" y="0" width="1" height="638" fill="#000"/><rect x="518.8" y="0" width="1.2" height="638" fill="#000"/><rect x="0" y="636.8" width="520" height="1.2" fill="#000"/>
</svg>
</body></html>
